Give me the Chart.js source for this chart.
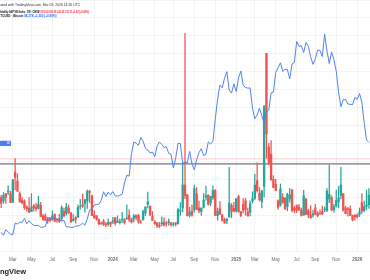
<!DOCTYPE html>
<html>
<head>
<meta charset="utf-8">
<title>VIX weekly vs BTCUSD</title>
<style>
    html, body { margin: 0; padding: 0; background: #ffffff; }
    #wrap { position: relative; width: 370px; height: 280px; overflow: hidden; background: #ffffff; }
    #chart { position: absolute; left: 0; top: 0; }
    .note {
        position: absolute;
        white-space: nowrap;
        line-height: 1;
        font-family: "Liberation Sans", Arial, sans-serif;
        font-size: 10px;
        color: #131722;
        transform-origin: 0 0;
    }
    #l1 { left: -5px; top: 2.6px; transform: scale(0.34); color: #2a2e39; }
    #l2 { left: -1.5px; top: 10.6px; transform: scale(0.26); font-weight: bold; letter-spacing: -0.5px; }
    #l3 { left: -1.6px; top: 15.2px; transform: scale(0.3); font-weight: bold; }
    .dn { color: #f23645; }
    .bl { color: #2962ff; }
    #brand {
        position: absolute;
        left: -18px;
        top: 268px;
        font-family: "Liberation Sans", Arial, sans-serif;
        font-weight: bold;
        font-size: 7.5px;
        line-height: 1;
        color: #131722;
        white-space: nowrap;
    }
</style>
<script src="https://cdn.jsdelivr.net/npm/chart.js"></script>
</head>
<body>
<div id="wrap">
    <canvas id="chart" width="370" height="280"></canvas>
    <div class="note" id="l1">Created with TradingView.com, Mar 09, 2026 14:26 UTC</div>
    <div class="note" id="l2">Volatility S&amp;P 500 Index · 1W · CBOE <span class="dn">O23.13 H25.20 L20.20 C21.11 +1.82 (+9.43%)</span></div>
    <div class="note" id="l3">BTCUSD · Bitcoin <span class="bl">68,278 +1,350 (+0.99%)</span></div>
    <div id="brand">TradingView</div>
</div>
<script>
// weekly bars, first week starts Mon 30 Jan 2023
const firstWeek = '2023-01-30';
const weekCount = 159;

// VIX weekly candles
const vixOpen = [
    19.9, 19.0, 21.0, 21.4, 21.0, 18.7, 27.0, 24.5, 21.0, 19.1, 19.0, 17.3, 17.0, 16.0, 17.6, 17.3,
    16.9, 17.7, 14.8, 14.8, 13.9, 14.0, 13.8, 15.2, 13.8, 14.0, 14.0, 16.0, 15.5, 17.0, 15.6, 13.5,
    14.3, 14.4, 17.4, 17.9, 18.2, 19.0, 21.7, 20.4, 15.0, 14.8, 13.7, 12.7, 13.3, 12.6, 12.5, 13.0,
    13.2, 14.3, 13.0, 13.0, 13.7, 13.8, 14.0, 15.0, 13.8, 14.0, 15.0, 14.9, 13.1, 13.7, 15.6, 18.0,
    17.5, 14.6, 13.2, 12.8, 12.2, 12.6, 13.1, 12.8, 12.9, 12.8, 12.4, 12.8, 12.6, 16.1, 17.0, 23.4,
    20.7, 15.0, 16.1, 16.5, 20.9, 17.0, 16.0, 17.2, 20.0, 20.5, 18.4, 19.8, 21.9, 14.9, 16.8, 15.0,
    13.8, 13.5, 14.5, 17.7, 16.9,
    16.2, 20.2, 16.0, 18.0, 19.0, 15.9, 15.8, 18.9, 19.7, 24.6, 21.1, 18.7, 23.0, 60.1, 34.0, 32.0,
    25.0, 23.6, 19.0, 17.8, 20.0, 19.8, 17.4, 19.5, 22.0, 17.0, 17.8, 17.2, 16.4, 15.0, 19.5, 16.2,
    15.0, 15.0, 17.0, 15.5, 15.6, 16.1, 16.5, 16.3, 19.5, 19.9, 16.5, 17.5, 18.8, 20.5, 21.0, 17.0,
    16.8, 16.7, 14.9, 14.9,
    15.0, 15.2, 18.5, 16.3, 17.5, 17.9
];
const vixHigh = [
    20.5, 21.3, 21.0, 23.2, 21.7, 25.0, 30.8, 26.5, 21.5, 19.9, 19.3, 17.6, 19.9, 21.0, 18.0, 18.3,
    20.3, 18.6, 15.2, 15.4, 14.4, 14.3, 16.2, 15.4, 14.1, 15.2, 17.6, 17.0, 18.3, 17.8, 15.8, 15.1,
    14.6, 17.9, 19.4, 20.9, 19.4, 22.0, 21.9, 20.6, 16.3, 14.9, 14.0, 13.1, 13.8, 12.9, 14.0, 13.1,
    14.4, 14.3, 14.8, 13.9, 15.8, 14.0, 17.9, 16.5, 14.2, 15.2, 15.0, 15.3, 13.6, 16.4, 17.3, 21.4,
    17.6, 16.0, 13.4, 13.0, 13.0, 14.5, 14.3, 13.2, 14.0, 13.0, 13.0, 13.0, 16.9, 18.5, 29.7, 65.7,
    20.7, 17.2, 17.8, 23.4, 22.7, 18.9, 17.0, 21.0, 23.1, 20.7, 20.2, 23.2, 22.1, 17.0, 18.8, 15.3,
    14.2, 14.2, 28.3, 18.2, 18.6,
    19.6, 20.6, 16.0, 19.6, 19.7, 17.0, 18.9, 21.5, 26.4, 29.6, 22.7, 22.0, 45.6, 60.1, 35.0, 35.8,
    26.0, 25.0, 19.3, 23.7, 21.0, 19.8, 21.1, 22.5, 22.2, 17.4, 17.8, 18.0, 17.0, 21.9, 19.6, 16.7,
    17.7, 16.4, 18.0, 16.0, 16.5, 17.5, 17.3, 22.4, 29.0, 20.4, 18.0, 22.0, 23.0, 28.3, 21.0, 17.5,
    17.2, 17.6, 15.0, 15.2,
    15.4, 17.0, 21.0, 18.9, 22.0, 22.4
];
const vixLow = [
    17.1, 18.3, 18.3, 20.7, 18.5, 18.5, 22.0, 21.5, 18.6, 18.1, 16.6, 16.1, 15.8, 16.0, 16.1, 16.2,
    16.7, 14.5, 13.5, 13.5, 12.7, 13.2, 13.5, 13.1, 13.0, 12.9, 13.5, 14.5, 15.0, 15.4, 13.0, 13.3,
    12.8, 14.4, 16.7, 17.1, 15.8, 16.9, 18.5, 14.9, 14.2, 13.6, 12.4, 12.4, 12.1, 11.8, 12.0, 11.8,
    12.6, 12.2, 12.9, 12.5, 12.9, 12.5, 13.8, 13.2, 12.8, 13.1, 13.7, 12.7, 12.7, 13.6, 14.9, 17.0,
    14.9, 13.5, 12.4, 11.5, 11.5, 12.0, 11.9, 11.9, 12.1, 11.9, 11.9, 11.9, 12.5, 14.9, 15.9, 19.6,
    14.8, 14.4, 14.7, 15.8, 16.5, 15.6, 14.9, 17.0, 19.2, 17.8, 17.6, 19.4, 14.9, 13.6, 15.2, 13.3,
    12.7, 12.6, 14.4, 14.3, 15.9,
    15.8, 15.8, 14.6, 15.6, 15.0, 14.7, 14.8, 18.3, 19.4, 21.4, 19.0, 17.0, 20.0, 30.9, 29.0, 24.8,
    22.6, 21.8, 16.6, 17.5, 18.3, 16.5, 16.2, 18.6, 15.9, 15.7, 15.7, 16.3, 14.7, 15.0, 15.2, 14.3,
    14.2, 14.4, 15.2, 14.6, 15.1, 15.2, 15.9, 16.0, 18.5, 16.3, 15.8, 17.2, 17.0, 19.5, 16.1, 15.4,
    14.7, 14.9, 13.4, 13.6,
    14.2, 14.6, 15.5, 15.9, 16.5, 16.9
];
const vixClose = [
    18.3, 20.5, 20.0, 21.7, 18.5, 24.8, 25.5, 21.7, 18.7, 18.4, 17.1, 16.8, 15.8, 17.2, 17.0, 16.8,
    18.0, 14.6, 13.8, 13.5, 13.4, 13.6, 14.8, 13.3, 13.6, 13.3, 17.1, 14.8, 17.3, 15.7, 13.1, 13.8,
    13.8, 17.2, 17.5, 17.5, 19.3, 21.7, 21.3, 14.9, 14.2, 13.8, 12.5, 12.6, 12.4, 12.3, 13.0, 12.5,
    13.4, 12.7, 13.3, 13.3, 13.9, 12.9, 14.2, 13.8, 13.1, 14.7, 14.4, 13.1, 13.0, 16.0, 17.3, 18.7,
    15.0, 13.5, 12.6, 12.0, 11.9, 12.9, 12.2, 12.7, 13.2, 12.4, 12.5, 12.5, 16.5, 16.4, 23.4, 20.4,
    14.8, 15.9, 15.0, 22.4, 16.6, 16.2, 17.0, 19.2, 20.5, 18.0, 20.3, 21.9, 14.9, 16.1, 15.2, 13.5,
    12.8, 13.8, 18.4, 16.0, 16.1,
    19.5, 16.0, 14.9, 16.4, 16.5, 14.8, 18.2, 19.6, 23.4, 21.8, 19.3, 21.7, 45.3, 37.6, 29.7, 24.8,
    22.7, 21.9, 17.2, 22.3, 18.6, 16.8, 20.8, 20.6, 16.3, 16.4, 16.4, 16.4, 14.9, 20.4, 15.2, 15.1,
    14.2, 15.4, 15.2, 14.8, 15.5, 15.3, 16.7, 21.7, 20.8, 16.4, 17.4, 19.1, 19.8, 23.4, 16.4, 15.4,
    16.5, 14.9, 13.6, 14.5,
    14.5, 15.9, 16.1, 17.4, 17.8, 20.6
];

// BTCUSD weekly close, thousands of USD
const btcClose = [
    23.3, 21.8, 24.6, 23.5, 22.4, 22.1, 28.0, 27.5, 28.5, 28.3, 30.3, 27.6, 29.2, 27.7, 26.9, 26.7,
    26.8, 25.8, 25.9, 26.3, 30.5, 30.6, 30.2, 30.3, 29.9, 29.3, 29.0, 29.3, 26.1, 26.0, 25.8, 25.8,
    26.5, 26.5, 27.0, 27.9, 26.9, 30.0, 34.5, 35.0, 37.1, 37.4, 37.5, 39.5, 43.8, 41.4, 43.6, 42.2,
    43.9, 41.7, 41.6, 42.0, 42.6, 48.3, 52.1, 51.7, 63.1, 68.9, 68.4, 67.2, 71.3, 69.4, 65.7, 64.9,
    63.4, 63.9, 61.5, 66.9, 69.0, 67.8, 66.2, 66.6, 63.2, 62.7, 55.8, 60.8, 68.2, 68.2, 58.1, 58.7,
    58.4, 64.2, 58.0, 54.8, 60.0, 63.6, 65.6, 62.1, 62.8, 69.0, 67.9, 69.4, 80.4, 90.6, 97.7, 96.4,
    101.2, 104.5, 95.2, 93.7, 98.4,
    94.5, 101.3, 104.8, 97.7, 96.5, 96.2, 96.3, 86.1, 80.7, 82.6, 86.1, 82.3, 78.4, 83.7, 85.3, 93.7,
    94.3, 104.1, 106.5, 109.0, 104.6, 105.7, 105.6, 100.9, 108.4, 109.2, 119.8, 117.3, 117.6, 114.2, 119.3, 117.4,
    112.0, 108.2, 111.1, 115.4, 115.3, 112.2, 123.5, 115.1, 108.6, 114.5, 110.6, 104.7, 94.2, 86.8, 90.4, 90.4,
    88.2, 88.0, 87.8, 91.5,
    90.5, 93.5, 89.0, 78.7, 70.0, 68.8
];
const btcLast = 68.278;

// time axis labels
const tickWeeks = ['2023-03-06', '2023-05-01', '2023-07-03', '2023-09-04', '2023-11-06', '2024-01-01',
    '2024-03-04', '2024-05-06', '2024-07-01', '2024-09-02', '2024-11-04', '2025-01-06',
    '2025-03-03', '2025-05-05', '2025-07-07', '2025-09-01', '2025-11-03', '2026-01-05'];
const tickText = ['Mar', 'May', 'Jul', 'Sep', 'Nov', '2024', 'Mar', 'May', 'Jul', 'Sep', 'Nov', '2025',
    'Mar', 'May', 'Jul', 'Sep', 'Nov', '2026'];

// horizontal levels drawn on the VIX scale
const vixLevels = [30.7, 29.3];

const weeks = [];
for (let i = 0; i < weekCount; i++) {
    const d = new Date(firstWeek + 'T00:00:00Z');
    d.setUTCDate(d.getUTCDate() + i * 7);
    weeks.push(d.toISOString().slice(0, 10));
}

const upColor = '#26a69a';
const downColor = '#ef5350';
const candleColor = c => vixClose[c.dataIndex] >= vixOpen[c.dataIndex] ? upColor : downColor;

const levelsPlugin = {
    id: 'levels',
    beforeDatasetsDraw(chart) {
        const g = chart.ctx;
        const area = chart.chartArea;
        const y = chart.scales.vix;
        const styles = [['rgba(242,54,69,0.3)', 0.8], ['#72757f', 1.1]];
        vixLevels.forEach((v, i) => {
            const py = y.getPixelForValue(v);
            g.save();
            g.strokeStyle = styles[i][0];
            g.lineWidth = styles[i][1];
            g.beginPath();
            g.moveTo(area.left, py);
            g.lineTo(area.right, py);
            g.stroke();
            g.restore();
        });
    },
    afterDraw(chart) {
        const g = chart.ctx;
        const py = chart.scales.btc.getPixelForValue(btcLast);
        g.save();
        g.fillStyle = '#4b7bec';
        g.fillRect(-20, py - 2.6, 31, 5.2);
        g.fillStyle = '#ffffff';
        g.font = '3px "Liberation Sans", Arial, sans-serif';
        g.textAlign = 'right';
        g.textBaseline = 'middle';
        g.fillText(btcLast.toLocaleString('en-US', {maximumFractionDigits: 0}), 10, py);
        g.restore();
    }
};

new Chart(document.getElementById('chart'), {
    type: 'bar',
    data: {
        labels: weeks,
        datasets: [
            {
                type: 'line',
                label: 'BTCUSD',
                data: btcClose,
                yAxisID: 'btc',
                borderColor: '#4f82ea',
                borderWidth: 1,
                pointRadius: 0,
                tension: 0
            },
            {
                label: 'VIX body',
                data: weeks.map((w, i) => [vixOpen[i], vixClose[i]]),
                yAxisID: 'vix',
                grouped: false,
                barThickness: 1.7,
                backgroundColor: candleColor,
                borderWidth: 0
            },
            {
                label: 'VIX wick',
                data: weeks.map((w, i) => [vixLow[i], vixHigh[i]]),
                yAxisID: 'vix',
                grouped: false,
                barThickness: 0.6,
                backgroundColor: candleColor,
                borderWidth: 0
            }
        ]
    },
    options: {
        responsive: false,
        animation: false,
        layout: { padding: { left: 0, right: 0, top: 0, bottom: 11.6 } },
        plugins: { legend: { display: false }, tooltip: { enabled: false } },
        scales: {
            x: {
                offset: true,
                grid: { color: 'rgba(42,46,57,0.06)', drawTicks: false, offset: false },
                border: { display: false },
                afterBuildTicks: scale => {
                    scale.ticks = scale.ticks.filter(t => tickWeeks.includes(weeks[t.value]));
                },
                ticks: {
                    autoSkip: false,
                    maxRotation: 0,
                    padding: 6,
                    color: '#6a6d78',
                    font: c => ({
                        family: '"Liberation Sans", Arial, sans-serif',
                        size: 4.5,
                        weight: c.tick && /^\d{4}$/.test(c.tick.label) ? 'bold' : 'normal'
                    }),
                    callback: value => tickText[tickWeeks.indexOf(weeks[value])]
                }
            },
            vix: {
                position: 'right',
                min: 5,
                max: 75,
                ticks: { display: false, stepSize: 5 },
                grid: { color: 'rgba(42,46,57,0.05)', drawTicks: false },
                border: { display: false }
            },
            btc: {
                position: 'left',
                display: false,
                min: 13.85,
                max: 140.75
            }
        }
    },
    plugins: [levelsPlugin]
});
</script>
</body>
</html>
